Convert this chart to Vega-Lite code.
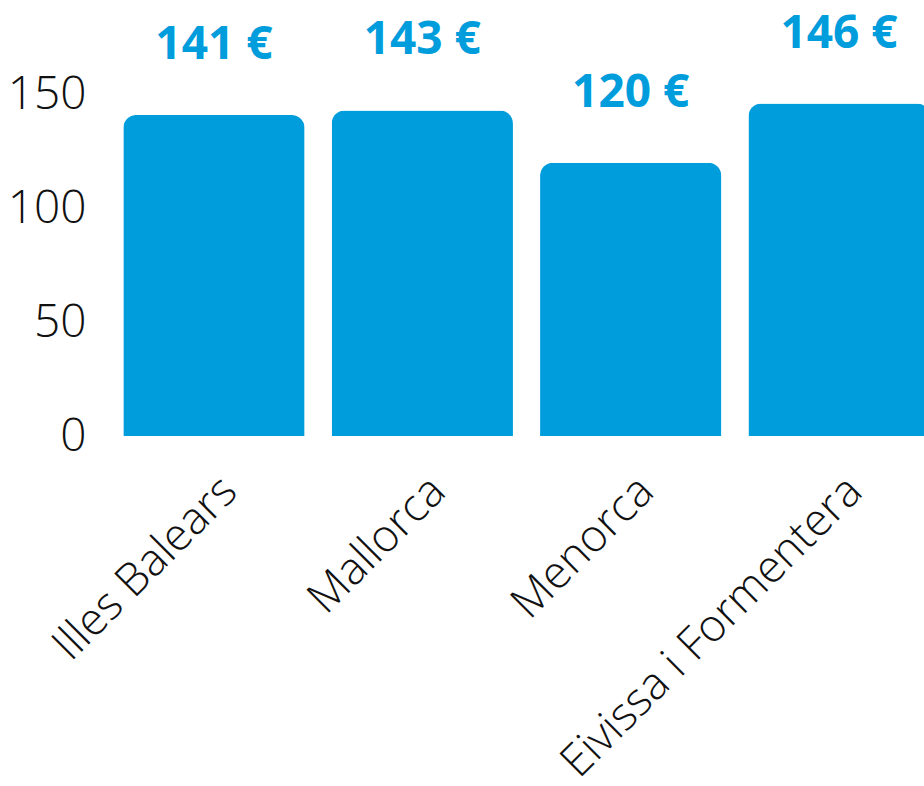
{
  "$schema": "https://vega.github.io/schema/vega-lite/v6.json",
  "autosize": {"type": "none"},
  "padding": {"left": 110, "top": 0, "right": 0, "bottom": 350},
  "width": 833,
  "height": 436,
  "background": "white",
  "config": {
    "view": {"stroke": null},
    "font": "Open Sans"
  },
  "data": {
    "values": [
      {"region": "Illes Balears", "price": 141, "label": "141 €"},
      {"region": "Mallorca", "price": 143, "label": "143 €"},
      {"region": "Menorca", "price": 120, "label": "120 €"},
      {"region": "Eivissa i Formentera", "price": 146, "label": "146 €"}
    ]
  },
  "encoding": {
    "x": {
      "field": "region",
      "type": "nominal",
      "sort": null,
      "scale": {"paddingInner": 0.13, "paddingOuter": 0.0638},
      "axis": {
        "title": null,
        "domain": false,
        "ticks": false,
        "tickSize": 0,
        "labelAngle": -45,
        "labelFont": "Open Sans",
        "labelFontSize": 45,
        "labelFontWeight": 300,
        "labelColor": "#111111",
        "labelPadding": 32,
        "labelLimit": 0
      }
    },
    "y": {
      "field": "price",
      "type": "quantitative",
      "scale": {"domain": [0, 191.5], "nice": false, "zero": true},
      "axis": {
        "title": null,
        "domain": false,
        "ticks": false,
        "tickSize": 0,
        "grid": false,
        "values": [0, 50, 100, 150],
        "labelFont": "Open Sans",
        "labelFontSize": 46,
        "labelFontWeight": 300,
        "labelColor": "#111111",
        "labelPadding": 24
      }
    }
  },
  "layer": [
    {
      "mark": {"type": "bar", "color": "#009DDC", "cornerRadiusTopLeft": 13, "cornerRadiusTopRight": 13}
    },
    {
      "mark": {"type": "text", "color": "#009DDC", "font": "Open Sans", "fontSize": 46, "fontWeight": "bold", "baseline": "middle", "dy": -70},
      "encoding": {"text": {"field": "label"}}
    }
  ]
}
